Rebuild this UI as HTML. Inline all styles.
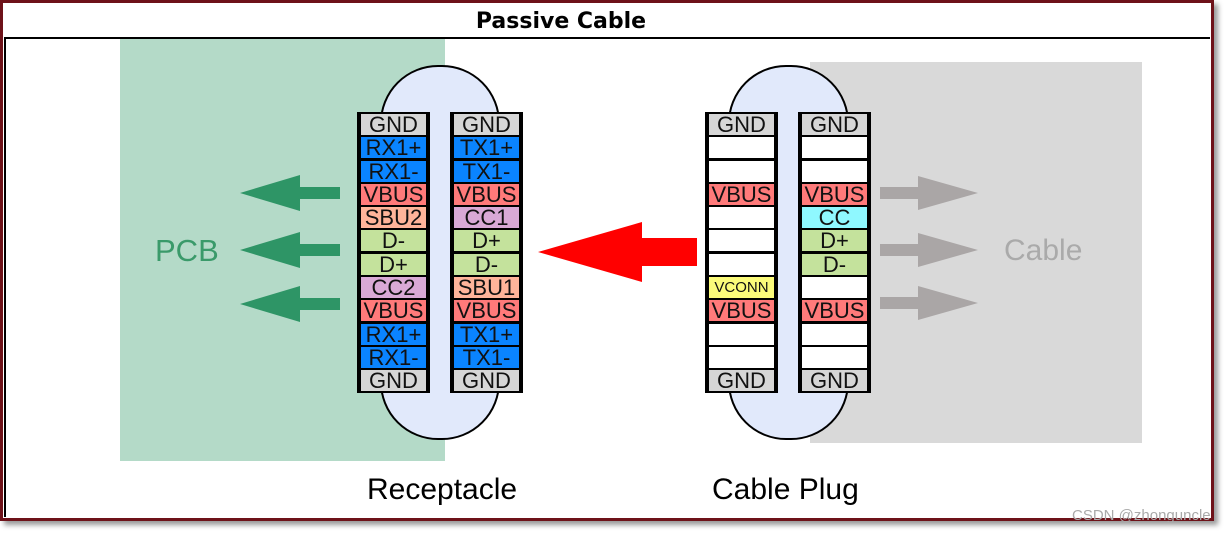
<!DOCTYPE html>
<html><head><meta charset="utf-8"><style>
body{margin:0;width:1227px;height:535px;background:#fff;position:relative;overflow:hidden;font-family:"Liberation Sans",sans-serif}
.a{position:absolute}
.col{position:absolute;top:112px;width:69px;height:277px;background:#000;border:2px solid #000;}
.cell{height:21px;margin-bottom:2.3px;text-align:center;font-size:22px;line-height:22px;color:#111;overflow:hidden;margin-left:2px;margin-right:2px;white-space:nowrap}
.cell:last-child{margin-bottom:0}
.g{background:#d6d6d6}.b{background:#0a84ff}.r{background:#ff7a7a}.o{background:#ffb49a}.l{background:#c4e29c}.p{background:#d9a9d6}.w{background:#fff}.c{background:#8ff8ff}.y{background:#fbfb7a;font-size:15px}
</style></head><body>
<div class="a" style="left:0;top:0;width:1208px;height:515px;border:3px solid #6e1219;box-shadow:4px 4px 5px #999"></div>
<div class="a" style="left:4px;top:37px;width:1204px;height:478px;border-top:2px solid #000;border-left:2px solid #000"></div>
<div class="a" style="left:0;top:9px;width:1122px;text-align:center;font-weight:bold;font-size:22px;font-family:'DejaVu Sans',sans-serif">Passive Cable</div>
<div class="a" style="left:120px;top:39px;width:325px;height:422px;background:#b4dac8"></div>
<div class="a" style="left:810px;top:62px;width:332px;height:381px;background:#d9d9d9"></div>
<div class="a" style="left:380px;top:65px;width:116px;height:371px;background:#e1e9fb;border:2px solid #000;border-radius:58px"></div>
<div class="a" style="left:728px;top:65px;width:117px;height:371px;background:#e1e9fb;border:2px solid #000;border-radius:58px"></div>
<svg class="a" style="left:0;top:0" width="1227" height="535">
<g fill="#2e9566">
<polygon points="240,193 300,175 300,187 340,187 340,199 300,199 300,211"/>
<polygon points="240,250 300,232 300,244 340,244 340,256 300,256 300,268"/>
<polygon points="240,304 300,286 300,298 340,298 340,310 300,310 300,322"/>
</g>
<polygon fill="#ff0000" points="538,252 642,222 642,238 697,238 697,266 642,266 642,282"/>
<g fill="#aaa6a6">
<polygon points="978,193 918,176 918,187 880,187 880,199 918,199 918,210"/>
<polygon points="978,250 918,233 918,244 880,244 880,256 918,256 918,267"/>
<polygon points="978,303 918,286 918,297 880,297 880,309 918,309 918,320"/>
</g>
</svg>
<div class="a" style="left:155px;top:233px;font-size:31px;color:#3a9a6a">PCB</div>
<div class="a" style="left:1004px;top:234px;font-size:30px;color:#aaa">Cable</div>
<div class="a" style="left:367px;top:473px;font-size:30px">Receptacle</div>
<div class="a" style="left:712px;top:473px;font-size:30px">Cable Plug</div>
<div class="a" style="left:1072px;top:507px;font-size:15px;color:#aaa">CSDN @zhonguncle</div>
<div class="col" style="left:357px"><div class="cell g">GND</div><div class="cell b">RX1+</div><div class="cell b">RX1-</div><div class="cell r">VBUS</div><div class="cell o">SBU2</div><div class="cell l">D-</div><div class="cell l">D+</div><div class="cell p">CC2</div><div class="cell r">VBUS</div><div class="cell b">RX1+</div><div class="cell b">RX1-</div><div class="cell g">GND</div></div>
<div class="col" style="left:450px"><div class="cell g">GND</div><div class="cell b">TX1+</div><div class="cell b">TX1-</div><div class="cell r">VBUS</div><div class="cell p">CC1</div><div class="cell l">D+</div><div class="cell l">D-</div><div class="cell o">SBU1</div><div class="cell r">VBUS</div><div class="cell b">TX1+</div><div class="cell b">TX1-</div><div class="cell g">GND</div></div>
<div class="col" style="left:705px"><div class="cell g">GND</div><div class="cell w"></div><div class="cell w"></div><div class="cell r">VBUS</div><div class="cell w"></div><div class="cell w"></div><div class="cell w"></div><div class="cell y">VCONN</div><div class="cell r">VBUS</div><div class="cell w"></div><div class="cell w"></div><div class="cell g">GND</div></div>
<div class="col" style="left:798px"><div class="cell g">GND</div><div class="cell w"></div><div class="cell w"></div><div class="cell r">VBUS</div><div class="cell c">CC</div><div class="cell l">D+</div><div class="cell l">D-</div><div class="cell w"></div><div class="cell r">VBUS</div><div class="cell w"></div><div class="cell w"></div><div class="cell g">GND</div></div>
</body></html>
